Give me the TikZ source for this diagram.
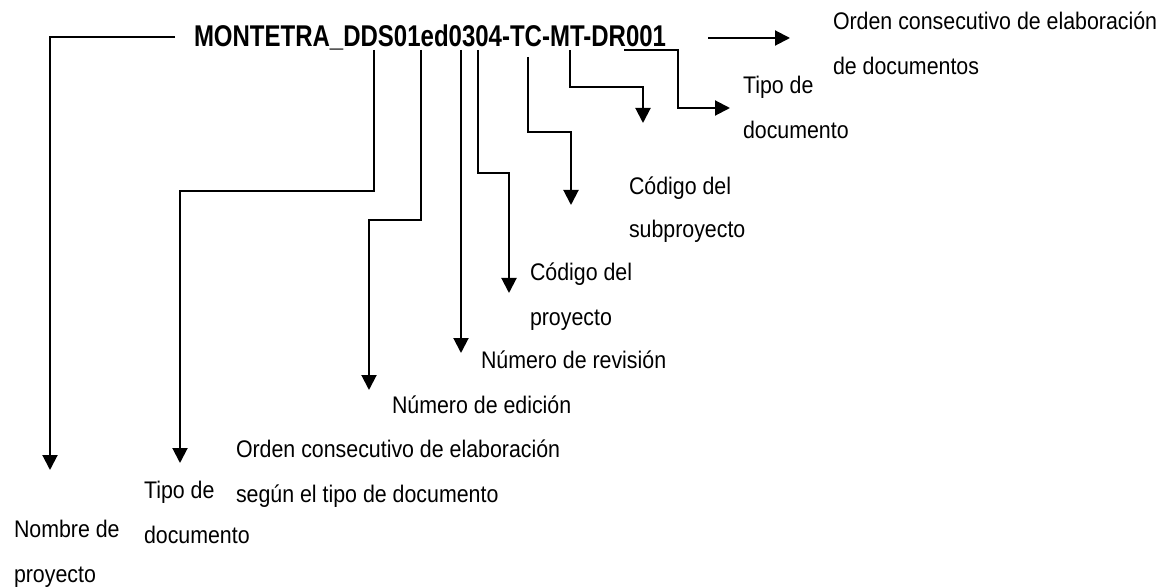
\documentclass[tikz,border=0pt]{standalone}
\usepackage{fontspec}
\setmainfont[FakeStretch=0.89]{Liberation Sans}
\newfontfamily\codefont[FakeStretch=0.8]{Liberation Sans}
\usetikzlibrary{arrows.meta}
\begin{document}
\begin{tikzpicture}[x=1pt,y=-1pt,line width=2pt,
  lab/.style={anchor=base west,inner sep=0pt,font=\fontsize{24}{24}\selectfont},
  arr/.style={-{Triangle[width=15pt,length=15pt]}}]
\useasboundingbox (0,0) rectangle (1176,588);
\node[anchor=base west,inner sep=0pt,font=\codefont\bfseries\fontsize{30}{30}\selectfont] (code) at (193,46.5) {MONTETRA\_DDS01ed0304-TC-MT-DR001};
% start points on the code
\coordinate (s1) at (175,37.5);
\coordinate (s2) at (374,50);
\coordinate (s3) at (421,50);
\coordinate (s4) at (461,50);
\coordinate (s5) at (478,50);
\coordinate (s6) at (528,57);
\coordinate (s7) at (570,50);
\coordinate (s8) at (624,50);
\coordinate (s9) at (708,38);
% arrow ends
\coordinate (e1) at (50,470);
\coordinate (e2) at (180,463);
\coordinate (e3) at (369,390);
\coordinate (e4) at (461,353);
\coordinate (e5) at (509,293);
\coordinate (e6) at (571,205);
\coordinate (e7) at (643,123);
\coordinate (e8) at (730,108);
\coordinate (e9) at (790,38);
% connectors
\draw[arr] (s1) -- (s1 -| e1) -- (e1);
\draw[arr] (s2) -- (374,191) -- (180,191) -- (e2);
\draw[arr] (s3) -- (421,220) -- (369,220) -- (e3);
\draw[arr] (s4) -- (e4);
\draw[arr] (s5) -- (478,173) -- (509,173) -- (e5);
\draw[arr] (s6) -- (528,132) -- (571,132) -- (e6);
\draw[arr] (s7) -- (570,87) -- (643,87) -- (e7);
\draw[arr] (s8) -- (678,50) -- (678,108) -- (e8);
\draw[arr] (s9) -- (e9);
% labels
\node[lab] (l9a) at (832,30) {Orden consecutivo de elaboración};
\node[lab] (l9b) at (832,75) {de documentos};
\node[lab] (l8a) at (742,94) {Tipo de};
\node[lab] (l8b) at (742,139) {documento};
\node[lab] (l7a) at (628,195) {Código del};
\node[lab] (l7b) at (628,238) {subproyecto};
\node[lab] (l6a) at (529,281) {Código del};
\node[lab] (l6b) at (529,326) {proyecto};
\node[lab] (l4) at (480,368) {Número de revisión};
\node[lab] (l3) at (391,413) {Número de edición};
\node[lab] (l2a) at (235,457) {Orden consecutivo de elaboración};
\node[lab] (l2b) at (235,502) {según el tipo de documento};
\node[lab] (l1a) at (143,498) {Tipo de};
\node[lab] (l1b) at (143,543) {documento};
\node[lab] (l0a) at (13,537) {Nombre de};
\node[lab] (l0b) at (13,582) {proyecto};
\end{tikzpicture}
\end{document}
